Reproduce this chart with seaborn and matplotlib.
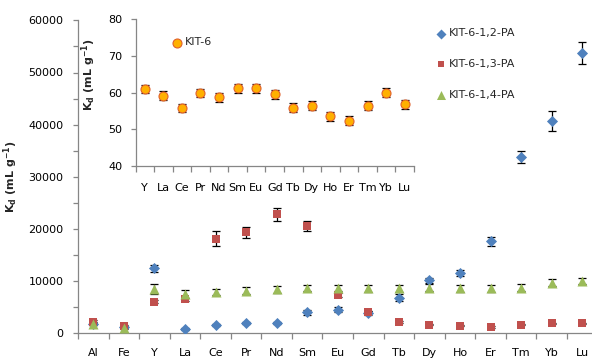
import numpy as np
import pandas as pd
import matplotlib
matplotlib.use("Agg")
import matplotlib.pyplot as plt
from matplotlib.ticker import MultipleLocator, FixedLocator, NullFormatter
import seaborn as sns

# ---- data -------------------------------------------------------------
elements = ["Al", "Fe", "Y", "La", "Ce", "Pr", "Nd", "Sm", "Eu", "Gd",
            "Tb", "Dy", "Ho", "Er", "Tm", "Yb", "Lu"]

kd_12pa = [1800, 1150, 12400, 700, 1500, 1900, 1900, 3950, 4500, 3800,
           6800, 10150, 11550, 17600, 33800, 40700, 53800]
err_12pa = [300, 200, 600, 200, 250, 250, 250, 400, 400, 400,
            600, 500, 600, 900, 1150, 2000, 2150]

kd_13pa = [2150, 1350, 6000, 6450, 18100, 19300, 22800, 20550, 7300, 4000,
           2150, 1600, 1400, 1200, 1600, 1850, 1850]
err_13pa = [250, 200, 300, 300, 1400, 1050, 1250, 1000, 300, 250,
            200, 150, 150, 150, 150, 150, 150]

kd_14pa = [1750, 950, 8450, 7500, 7850, 8100, 8350, 8650, 8650, 8550,
           8550, 8700, 8550, 8550, 8700, 9650, 9950]
err_14pa = [250, 200, 1000, 750, 650, 650, 650, 650, 650, 600,
            650, 650, 650, 700, 650, 650, 600]

ree = ["Y", "La", "Ce", "Pr", "Nd", "Sm", "Eu", "Gd", "Tb", "Dy",
       "Ho", "Er", "Tm", "Yb", "Lu"]
kd_kit6 = [61.0, 59.2, 55.8, 59.9, 58.7, 61.2, 61.2, 59.6, 55.9, 56.4,
           53.5, 52.4, 56.4, 60.0, 56.8]
err_kit6 = [1.2, 1.2, 1.2, 1.2, 1.2, 1.2, 1.2, 1.2, 1.2, 1.2,
            1.2, 1.2, 1.2, 1.2, 1.2]

series_names = ["KIT-6-1,2-PA", "KIT-6-1,3-PA", "KIT-6-1,4-PA"]

# ---- style ------------------------------------------------------------
sns.set_theme(style="white")
plt.rcParams["font.family"] = ["DejaVu Sans"]
plt.rcParams["font.size"] = 8

BLUE, RED, GREEN = "#4F81BD", "#C0504D", "#9BBB59"
ORANGE, ORANGE_EDGE = "#FFB000", "#E0602A"
AXIS_GREY = "#868686"

W, H = 592, 358
fig = plt.figure(figsize=(W / 100, H / 100), dpi=100)


def px_axes(left, top, right, bottom):
    """Add an axes given its edges in pixel coordinates measured from the top-left corner."""
    return fig.add_axes([left / W, 1 - bottom / H, (right - left) / W, (bottom - top) / H])


def style_axes(ax):
    for side in ("top", "right"):
        ax.spines[side].set_visible(False)
    for side in ("left", "bottom"):
        ax.spines[side].set_color(AXIS_GREY)
        ax.spines[side].set_linewidth(0.9)
    ax.set_facecolor("none")
    ax.grid(False)


KD_LABEL = r"$\mathbf{K_d}$ (mL g$^{\mathbf{-1}}$)"

# ---- main panel -------------------------------------------------------
ax = px_axes(78, 20.4, 592, 333)
style_axes(ax)

pos = {e: i for i, e in enumerate(elements)}
long = pd.DataFrame({
    "element": elements * 3,
    "x": [pos[e] for e in elements] * 3,
    "kd": kd_12pa + kd_13pa + kd_14pa,
    "err": err_12pa + err_13pa + err_14pa,
    "series": sum([[s] * len(elements) for s in series_names], []),
})

colors = dict(zip(series_names, [BLUE, RED, GREEN]))
markers = dict(zip(series_names, ["D", "s", "^"]))
sizes = dict(zip(series_names, [32, 30, 52]))

for s in series_names:
    d = long[long["series"] == s]
    ax.errorbar(d["x"], d["kd"], yerr=d["err"], fmt="none", ecolor="black",
                elinewidth=0.9, capsize=2.6, capthick=0.9, zorder=2)

for s in series_names:
    d = long[long["series"] == s]
    sns.scatterplot(data=d, x="x", y="kd", ax=ax, color=colors[s], marker=markers[s],
                    s=sizes[s], linewidth=0, label=s, zorder=3)

ax.set_xlim(-0.5, 16.32)
ax.set_ylim(0, 60000)
ax.yaxis.set_major_locator(MultipleLocator(10000))
ax.yaxis.set_minor_locator(MultipleLocator(5000))
ax.yaxis.set_minor_formatter(NullFormatter())
ax.xaxis.set_major_locator(FixedLocator(range(len(elements))))
ax.set_xticklabels(elements)
ax.xaxis.set_minor_locator(FixedLocator(np.arange(-0.5, len(elements), 1.0)))
ax.tick_params(axis="x", which="major", length=0, pad=11, labelsize=8, labelcolor="black")
ax.tick_params(axis="x", which="minor", length=4, width=0.9, color=AXIS_GREY, direction="out", bottom=True)
ax.tick_params(axis="y", which="both", length=3.5, width=0.9, color=AXIS_GREY, direction="out",
               left=True, labelsize=8, labelcolor="black", pad=7)
ax.set_xlabel("")
ax.set_ylabel(KD_LABEL, fontsize=8, fontweight="bold")
ax.yaxis.set_label_coords((20 - 78) / (592 - 78), 0.5)

ax.legend(loc="upper left", bbox_to_anchor=(430 / W, 1 - 24 / H), bbox_transform=fig.transFigure,
          frameon=False, fontsize=8, labelspacing=1.85, handletextpad=0.1, handlelength=1.2,
          borderaxespad=0, markerscale=0.9)

# ---- inset panel ------------------------------------------------------
ins = px_axes(135.5, 19.3, 414, 166)
style_axes(ins)
ins.set_facecolor("white")

kit = pd.DataFrame({"x": range(len(ree)), "kd": kd_kit6, "err": err_kit6})
ins.errorbar(kit["x"], kit["kd"], yerr=kit["err"], fmt="none", ecolor="black",
             elinewidth=0.9, capsize=2.6, capthick=0.9, zorder=2)
sns.scatterplot(data=kit, x="x", y="kd", ax=ins, color=ORANGE, edgecolor=ORANGE_EDGE,
                linewidth=0.8, s=42, marker="o", label="KIT-6", zorder=3)

ins.set_xlim(-0.5, len(ree) - 0.5)
ins.set_ylim(40, 80)
ins.yaxis.set_major_locator(MultipleLocator(10))
ins.xaxis.set_major_locator(FixedLocator(range(len(ree))))
ins.set_xticklabels(ree)
ins.xaxis.set_minor_locator(FixedLocator(np.arange(-0.5, len(ree), 1.0)))
ins.tick_params(axis="x", which="major", length=0, pad=12, labelsize=8, labelcolor="black")
ins.tick_params(axis="x", which="minor", length=4, width=0.9, color=AXIS_GREY, direction="out", bottom=True)
ins.tick_params(axis="y", which="both", length=3.5, width=0.9, color=AXIS_GREY, direction="out",
                left=True, labelsize=8, labelcolor="black", pad=6)
ins.set_xlabel("")
ins.set_ylabel(KD_LABEL, fontsize=8, fontweight="bold")
ins.yaxis.set_label_coords((98 - 135.5) / (414 - 135.5), 0.62)
ins.legend(loc="upper left", bbox_to_anchor=(166 / W, 1 - 33 / H), bbox_transform=fig.transFigure,
           frameon=False, fontsize=8, handletextpad=0.1, handlelength=1.2, borderaxespad=0)

fig.savefig("out.png", dpi=100)
